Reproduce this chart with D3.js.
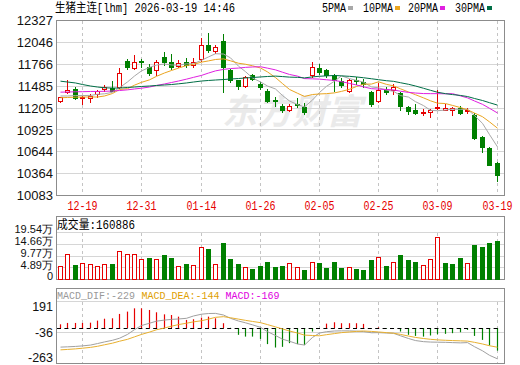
<!DOCTYPE html>
<html><head><meta charset="utf-8">
<script src="https://cdn.jsdelivr.net/npm/d3@7"></script>
<style>body{margin:0;background:#fff}svg{display:block}</style>
</head><body><svg id="c" width="520" height="365"></svg>
<script>
const dates = ["12-16","12-17","12-18","12-19","12-22","12-23","12-24","12-25","12-26","12-29","12-30","12-31","01-05","01-06","01-07","01-08","01-09","01-12","01-13","01-14","01-15","01-16","01-19","01-20","01-21","01-22","01-23","01-26","01-27","01-28","01-29","01-30","02-02","02-03","02-04","02-05","02-06","02-09","02-10","02-11","02-12","02-13","02-24","02-25","02-26","02-27","03-02","03-03","03-04","03-05","03-06","03-09","03-10","03-11","03-12","03-13","03-16","03-17","03-18","03-19"];
const open  = [11301,11413,11451,11336,11336,11387,11451,11459,11472,11805,11720,11805,11728,11695,11865,11801,11746,11801,11750,11827,12019,11942,12062,11686,11558,11485,11622,11515,11420,11310,11228,11180,11250,11215,11622,11720,11695,11622,11545,11429,11562,11536,11408,11292,11438,11438,11395,11215,11173,11143,11160,11207,11185,11185,11202,11164,11118,10831,10694,10502];
const high  = [11352,11558,11472,11365,11387,11438,11503,11545,11720,11836,11891,11836,11772,11823,11929,11900,11823,11849,11849,12100,12164,12015,12156,11708,11558,11613,11643,11536,11451,11344,11259,11259,11330,11267,11792,11772,11708,11643,11587,11579,11600,11579,11429,11523,11472,11510,11408,11228,11259,11194,11194,11438,11259,11215,11237,11202,11138,10844,10702,10510];
const low   = [11279,11400,11323,11250,11280,11352,11420,11420,11459,11708,11708,11728,11622,11631,11750,11708,11728,11737,11737,11805,11920,11913,11408,11536,11451,11472,11558,11451,11279,11237,11160,11169,11215,11122,11600,11644,11600,11429,11472,11408,11515,11472,11237,11280,11387,11387,11182,11131,11122,11109,11096,11194,11185,11118,11131,11138,10810,10638,10468,10266];
const close = [11344,11438,11336,11352,11360,11417,11472,11429,11651,11728,11797,11799,11656,11801,11793,11737,11780,11750,11801,12019,11951,11985,11728,11558,11485,11600,11579,11472,11301,11295,11180,11228,11241,11151,11737,11664,11622,11570,11494,11558,11549,11515,11259,11438,11408,11480,11237,11164,11143,11156,11173,11215,11207,11200,11138,11182,10818,10702,10480,10348];
const volume = [55800,104800,60000,67100,64100,55800,62900,62900,118700,106100,106100,85100,90600,85100,101900,90600,55800,64100,60000,136700,127000,64100,153500,85100,64100,52800,44400,57000,73800,52800,55800,67100,50300,39000,71300,67100,48600,71300,48600,51600,43200,39000,80900,93500,55800,71300,101900,80900,72500,60000,85100,177400,67100,64100,90600,67100,143800,136700,151000,160886];
const ma5  = [11359,11359,11365,11365,11366,11381,11387,11406,11466,11539,11615,11681,11726,11756,11769,11757,11753,11772,11772,11817,11860,11901,11897,11848,11741,11671,11590,11539,11487,11449,11365,11295,11249,11219,11307,11404,11483,11549,11617,11582,11559,11537,11475,11464,11434,11420,11364,11345,11286,11236,11175,11170,11179,11190,11187,11188,11109,11008,10864,10706];
const ma10 = [11336,11340,11344,11346,11346,11346,11359,11391,11442,11453,11498,11534,11566,11611,11654,11686,11717,11749,11764,11793,11809,11827,11835,11810,11779,11766,11746,11718,11668,11595,11518,11443,11394,11353,11378,11385,11389,11399,11418,11445,11481,11510,11512,11541,11508,11489,11451,11410,11375,11335,11297,11267,11262,11238,11211,11182,11140,11093,11027,10946];
const ma20 = [11408,11410,11413,11414,11417,11417,11419,11423,11429,11438,11449,11459,11474,11494,11513,11532,11551,11575,11598,11623,11653,11681,11700,11711,11717,11726,11731,11734,11716,11694,11664,11635,11614,11582,11579,11575,11567,11558,11543,11520,11500,11476,11453,11447,11443,11437,11420,11405,11397,11390,11389,11389,11387,11389,11360,11335,11295,11252,11201,11141];
const ma30 = [11549,11538,11526,11506,11487,11474,11464,11461,11461,11468,11474,11481,11487,11494,11500,11506,11515,11526,11538,11551,11558,11564,11570,11577,11583,11590,11596,11603,11609,11614,11608,11601,11598,11591,11604,11612,11617,11622,11617,11611,11603,11593,11580,11568,11555,11547,11529,11509,11487,11458,11432,11407,11389,11377,11366,11352,11327,11301,11273,11242];
const dif  = [-143,-141,-138,-134,-128,-117,-105,-93,-78,-50,-15,15,32,47,55,60,63,68,85,98,103,104,92,68,48,35,20,2,-30,-58,-85,-100,-120,-128,-72,-40,-30,-25,-24,-24,-26,-29,-38,-37,-40,-42,-60,-80,-95,-103,-106,-107,-108,-110,-112,-110,-140,-170,-203,-229];
const dea  = [-163,-160,-156,-151,-145,-137,-126,-114,-100,-86,-68,-50,-33,-16,-3,10,22,32,42,50,62,75,80,72,62,53,45,36,22,5,-10,-25,-40,-55,-58,-60,-52,-44,-37,-32,-28,-25,-28,-32,-37,-41,-50,-62,-72,-80,-86,-90,-93,-95,-97,-99,-108,-120,-133,-144];
const macd = [24,34,34,34,36,51,65,68,100,117,141,141,129,112,97,92,80,56,61,73,80,68,32,-2,-53,-66,-66,-83,-121,-146,-141,-114,-121,-126,-29,-3,29,39,32,32,32,27,-5,2,-7,-7,-29,-53,-61,-66,-58,-49,-46,-41,-34,-17,-61,-90,-131,-169];
const priceTicks = [12327,12046,11766,11485,11205,10925,10644,10364,10083];
const volTicks = [195400,146600,97700,48900,0];
const volTickLabels = ["19.54万","14.66万","9.77万","4.89万","0"];
const macdTicks = [191,-36,-263];
const dateTicks = ["12-19","12-31","01-14","01-26","02-05","02-25","03-09","03-19"];
const maNames = ["5PMA","10PMA","20PMA","30PMA"];

const RED="#e60000", GREEN="#008000", GRID="#d6d6d6", VGRID="#c4c4c4", BORDER="#8c8c8c";
const MA_COLORS=["#a8a8a8","#eaa520","#e020e0","#006e46"];
const MONO='"Liberation Mono","Noto Sans CJK SC",monospace';
const CJK='"Noto Sans CJK SC","Liberation Mono",sans-serif';
const SANS='"Liberation Sans",Arial,sans-serif';

const svg=d3.select("#c");
const L=56.5, R=504.5;
const x=d3.scaleBand().domain(d3.range(dates.length)).range([56.3,500.3]);
const cx=i=>Math.round(x(i)+x.bandwidth()/2);
const y=d3.scaleLinear().domain([10083,12327]).range([195.5,20.5]);
const yv=d3.scaleLinear().domain([0,195400]).range([279.5,232.5]);
const ym=d3.scaleLinear().domain([-263,191]).range([363.5,301.5]);
const dateIdx=d=>dates.indexOf(d);

// watermark
svg.append("text").attr("x",222).attr("y",124).attr("font-family",CJK).attr("font-weight","bold")
  .attr("font-style","italic").attr("font-size",35).attr("fill","#eaeaea").text("东方财富");

// ---------- main panel ----------
const gMain=svg.append("g");
priceTicks.slice(1,-1).forEach(t=>{
  const yy=Math.round(y(t)-0.5)+0.5;
  gMain.append("line").attr("x1",L).attr("x2",R).attr("y1",yy).attr("y2",yy).attr("stroke",GRID);
});
function vgrid(g,y1,y2){
  dateTicks.forEach(d=>{
    const xx=cx(dateIdx(d))+0.5;
    g.append("line").attr("x1",xx).attr("x2",xx).attr("y1",y1).attr("y2",y2)
      .attr("stroke",VGRID).attr("stroke-dasharray","3,3");
  });
}
vgrid(gMain,21,195);
gMain.append("rect").attr("x",L).attr("y",20.5).attr("width",R-L).attr("height",175).attr("fill","none").attr("stroke",BORDER);

priceTicks.forEach(t=>{
  svg.append("text").attr("x",53).attr("y",y(t)).attr("dy","0.36em").attr("text-anchor","end")
    .attr("font-family",SANS).attr("font-size",13).attr("fill","#111").text(t);
});

// candles
const gC=svg.append("g");
dates.forEach((d,i)=>{
  const up=close[i]>=open[i];
  const col=up?RED:GREEN;
  const xc=cx(i);
  gC.append("line").attr("x1",xc+0.5).attr("x2",xc+0.5).attr("y1",Math.round(y(high[i]))).attr("y2",Math.round(y(low[i]))+1).attr("stroke",col);
  const yt=Math.round(y(Math.max(open[i],close[i]))), yb=Math.round(y(Math.min(open[i],close[i])));
  if(up){
    if(yb-yt<2){
      gC.append("rect").attr("x",xc-2).attr("y",yt).attr("width",5).attr("height",Math.max(1,yb-yt+1)).attr("fill",col);
    } else {
      gC.append("rect").attr("x",xc-1.5).attr("y",yt+0.5).attr("width",4).attr("height",yb-yt).attr("fill","#fff").attr("stroke",col);
    }
  } else {
    gC.append("rect").attr("x",xc-2).attr("y",yt).attr("width",5).attr("height",Math.max(1,yb-yt+1)).attr("fill",col);
  }
});

// moving averages
[ma5,ma10,ma20,ma30].forEach((arr,k)=>{
  svg.append("path").datum(arr).attr("fill","none").attr("stroke",MA_COLORS[k]).attr("stroke-width",1)
    .attr("d",d3.line().x((v,i)=>cx(i)+0.5).y(v=>y(v)));
});

// title & legend
svg.append("text").attr("x",55).attr("y",12).attr("font-family",MONO).attr("font-size",12)
  .attr("textLength",180).attr("lengthAdjust","spacingAndGlyphs").attr("fill","#000").text("生猪主连[lhm] 2026-03-19 14:46");
const legX=[322,363,408,455];
maNames.forEach((n,k)=>{
  const w=n.length*6;
  svg.append("text").attr("x",legX[k]).attr("y",12).attr("font-family",MONO).attr("font-size",12)
    .attr("textLength",w).attr("lengthAdjust","spacingAndGlyphs").attr("fill","#000").text(n);
  svg.append("rect").attr("x",legX[k]+w+2).attr("y",6).attr("width",5).attr("height",4).attr("fill",MA_COLORS[k]);
});

// date labels
dateTicks.forEach(d=>{
  svg.append("text").attr("x",cx(dateIdx(d))+0.5).attr("y",209.5).attr("text-anchor","middle")
    .attr("font-family",MONO).attr("font-size",12).attr("textLength",30).attr("lengthAdjust","spacingAndGlyphs")
    .attr("fill",RED).text(d);
});

// ---------- volume panel ----------
const gV=svg.append("g");
volTicks.slice(1,-1).forEach(t=>{
  const yy=Math.round(yv(t)-0.5)+0.5;
  gV.append("line").attr("x1",L).attr("x2",R).attr("y1",yy).attr("y2",yy).attr("stroke",GRID);
});
gV.append("line").attr("x1",L).attr("x2",R).attr("y1",232.5).attr("y2",232.5).attr("stroke",GRID);
vgrid(gV,233,279);
gV.append("rect").attr("x",L).attr("y",216.5).attr("width",R-L).attr("height",63).attr("fill","none").attr("stroke",BORDER);
volTicks.forEach((t,k)=>{
  svg.append("text").attr("x",53).attr("y",yv(t)-3).attr("dy","0.36em").attr("text-anchor","end")
    .attr("font-family",SANS).attr("font-size",11).attr("fill","#111").text(volTickLabels[k]);
});
svg.append("text").attr("x",57).attr("y",228.5).attr("font-family",MONO).attr("font-size",12)
  .attr("textLength",78).attr("lengthAdjust","spacingAndGlyphs").attr("fill","#000").text("成交量:"+volume[volume.length-1]);
dates.forEach((d,i)=>{
  const up = i===0 ? true : close[i]>=close[i-1];
  const xc=cx(i), yt=Math.round(yv(volume[i]));
  if(up) gV.append("rect").attr("x",xc-1.5).attr("y",yt+0.5).attr("width",4).attr("height",279-yt).attr("fill","#fff").attr("stroke",RED);
  else gV.append("rect").attr("x",xc-2).attr("y",yt).attr("width",5).attr("height",280-yt).attr("fill",GREEN);
});

// ---------- MACD panel ----------
const gM=svg.append("g");
gM.append("line").attr("x1",L).attr("x2",R).attr("y1",301.5).attr("y2",301.5).attr("stroke",GRID);
gM.append("line").attr("x1",L).attr("x2",R).attr("y1",Math.round(ym(-36)-0.5)+0.5).attr("y2",Math.round(ym(-36)-0.5)+0.5).attr("stroke",GRID);
vgrid(gM,302,363);
gM.append("rect").attr("x",L).attr("y",288.5).attr("width",R-L).attr("height",75).attr("fill","none").attr("stroke",BORDER);
macdTicks.forEach(t=>{
  const yy=Math.min(Math.max(ym(t),306.5),357.5);
  svg.append("text").attr("x",53).attr("y",yy).attr("dy","0.36em").attr("text-anchor","end")
    .attr("font-family",SANS).attr("font-size",12.5).attr("fill","#111").text(t);
});
const y0=Math.round(ym(0));
macd.forEach((v,i)=>{
  const xc=cx(i)+0.5;
  gM.append("line").attr("x1",xc).attr("x2",xc).attr("y1",y0).attr("y2",ym(v)).attr("stroke",v>=0?RED:GREEN).attr("stroke-width",1.2);
});
gM.append("line").attr("x1",57).attr("x2",500).attr("y1",y0+0.5).attr("y2",y0+0.5).attr("stroke","#000").attr("stroke-dasharray","4,3.4");
svg.append("path").datum(dif).attr("fill","none").attr("stroke","#a0a0a0").attr("d",d3.line().x((v,i)=>cx(i)+0.5).y(v=>ym(v)));
svg.append("path").datum(dea).attr("fill","none").attr("stroke","#e8b030").attr("d",d3.line().x((v,i)=>cx(i)+0.5).y(v=>ym(v)));
const ml=[["MACD_DIF:"+dif[dif.length-1],57,"#999999",78],["MACD_DEA:"+dea[dea.length-1],141.5,"#e0a000",78],["MACD:"+macd[macd.length-1],225.5,"#e000e0",54]];
ml.forEach(([t,xx,c,w])=>{
  svg.append("text").attr("x",xx).attr("y",299).attr("font-family",MONO).attr("font-size",10.5)
    .attr("textLength",w).attr("lengthAdjust","spacingAndGlyphs").attr("fill",c).text(t);
});
</script></body></html>
